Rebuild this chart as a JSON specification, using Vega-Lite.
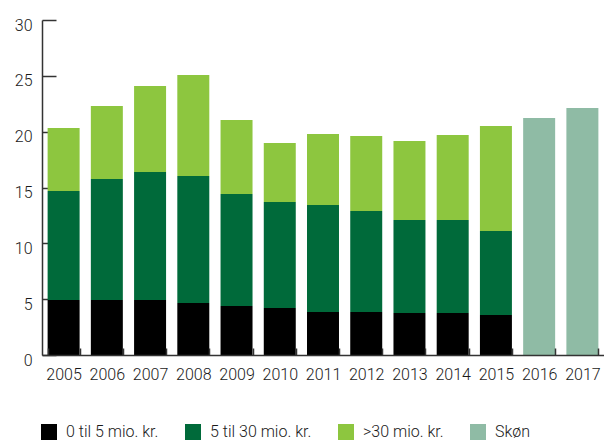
{
  "$schema": "https://vega.github.io/schema/vega-lite/v6.json",
  "width": 562,
  "height": 335,
  "autosize": {"type": "none"},
  "padding": {"left": 42, "top": 20, "right": 0, "bottom": 88},
  "background": "white",
  "config": {
    "view": {"stroke": null},
    "font": "Roboto",
    "axis": {"labelFont": "Roboto", "labelFontSize": 16, "labelFontWeight": 300, "labelColor": "#1a1a1a", "domainColor": "#333333", "tickColor": "#333333", "domainWidth": 1.5, "tickWidth": 1.5, "grid": false, "title": null},
    "legend": {"labelFont": "Roboto", "labelFontSize": 16, "labelFontWeight": 300, "labelColor": "#1a1a1a"}
  },
  "data": {
    "values": [
      {"year": "2005", "cat": "0 til 5 mio. kr.", "value": 4.93},
      {"year": "2005", "cat": "5 til 30 mio. kr.", "value": 9.76},
      {"year": "2005", "cat": ">30 mio. kr.", "value": 5.64},
      {"year": "2006", "cat": "0 til 5 mio. kr.", "value": 4.93},
      {"year": "2006", "cat": "5 til 30 mio. kr.", "value": 10.83},
      {"year": "2006", "cat": ">30 mio. kr.", "value": 6.54},
      {"year": "2007", "cat": "0 til 5 mio. kr.", "value": 4.93},
      {"year": "2007", "cat": "5 til 30 mio. kr.", "value": 11.46},
      {"year": "2007", "cat": ">30 mio. kr.", "value": 7.7},
      {"year": "2008", "cat": "0 til 5 mio. kr.", "value": 4.66},
      {"year": "2008", "cat": "5 til 30 mio. kr.", "value": 11.37},
      {"year": "2008", "cat": ">30 mio. kr.", "value": 9.04},
      {"year": "2009", "cat": "0 til 5 mio. kr.", "value": 4.39},
      {"year": "2009", "cat": "5 til 30 mio. kr.", "value": 10.03},
      {"year": "2009", "cat": ">30 mio. kr.", "value": 6.62},
      {"year": "2010", "cat": "0 til 5 mio. kr.", "value": 4.21},
      {"year": "2010", "cat": "5 til 30 mio. kr.", "value": 9.49},
      {"year": "2010", "cat": ">30 mio. kr.", "value": 5.28},
      {"year": "2011", "cat": "0 til 5 mio. kr.", "value": 3.85},
      {"year": "2011", "cat": "5 til 30 mio. kr.", "value": 9.58},
      {"year": "2011", "cat": ">30 mio. kr.", "value": 6.36},
      {"year": "2012", "cat": "0 til 5 mio. kr.", "value": 3.85},
      {"year": "2012", "cat": "5 til 30 mio. kr.", "value": 9.05},
      {"year": "2012", "cat": ">30 mio. kr.", "value": 6.71},
      {"year": "2013", "cat": "0 til 5 mio. kr.", "value": 3.76},
      {"year": "2013", "cat": "5 til 30 mio. kr.", "value": 8.33},
      {"year": "2013", "cat": ">30 mio. kr.", "value": 7.07},
      {"year": "2014", "cat": "0 til 5 mio. kr.", "value": 3.76},
      {"year": "2014", "cat": "5 til 30 mio. kr.", "value": 8.33},
      {"year": "2014", "cat": ">30 mio. kr.", "value": 7.61},
      {"year": "2015", "cat": "0 til 5 mio. kr.", "value": 3.58},
      {"year": "2015", "cat": "5 til 30 mio. kr.", "value": 7.52},
      {"year": "2015", "cat": ">30 mio. kr.", "value": 9.41},
      {"year": "2016", "cat": "Skøn", "value": 21.22},
      {"year": "2017", "cat": "Skøn", "value": 22.12}
    ]
  },
  "mark": {"type": "bar"},
  "encoding": {
    "x": {
      "field": "year", "type": "nominal",
      "scale": {"paddingInner": 0.26, "paddingOuter": 0.13},
      "axis": {"labelAngle": 0, "tickBand": "extent", "tickSize": -7, "labelPadding": 26, "labelBaseline": "middle", "zindex": 1}
    },
    "y": {
      "field": "value", "type": "quantitative", "aggregate": "sum", "stack": "zero",
      "scale": {"domain": [0, 30], "nice": false},
      "axis": {"values": [0, 5, 10, 15, 20, 25, 30], "tickSize": -14, "labelPadding": 24, "labelOffset": 5, "zindex": 0}
    },
    "color": {
      "field": "cat", "type": "nominal",
      "scale": {
        "domain": ["0 til 5 mio. kr.", "5 til 30 mio. kr.", ">30 mio. kr.", "Skøn"],
        "range": ["#000000", "#006a3a", "#8dc63f", "#8fbba5"]
      },
      "legend": {
        "title": null, "orient": "none", "legendX": -1, "legendY": 404,
        "direction": "horizontal", "columns": 4, "symbolType": "square", "symbolSize": 256,
        "symbolStrokeWidth": 0, "labelOffset": 9, "columnPadding": 26
      }
    },
    "order": {"field": "cat", "sort": "ascending"}
  }
}
